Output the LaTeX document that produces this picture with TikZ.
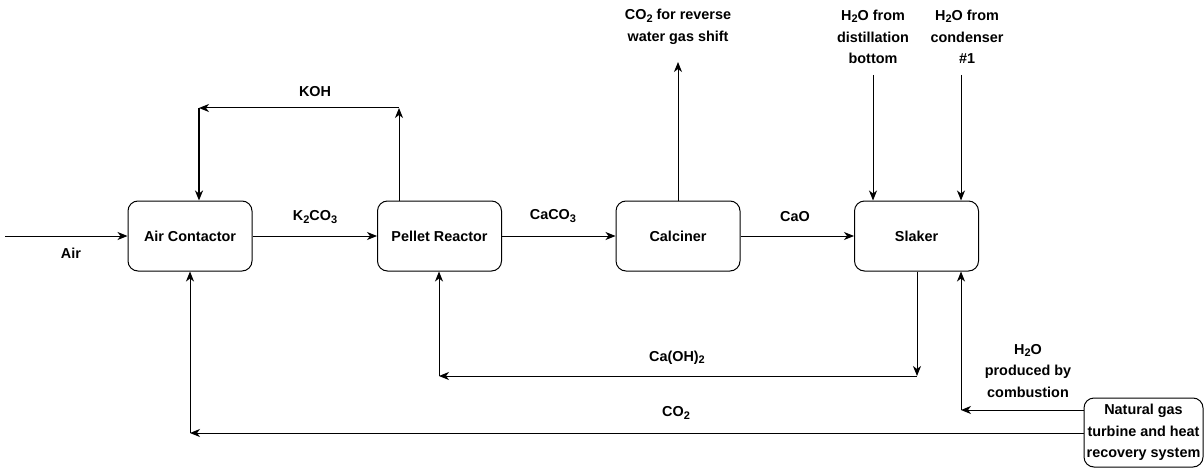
\documentclass[tikz,border=0pt]{standalone}
\usepackage{fontspec}
\setmainfont{Liberation Sans}
\usetikzlibrary{arrows.meta}
\newcommand{\chemsub}[1]{\raisebox{-0.28ex}{\fontsize{11}{11}\selectfont #1}}
\begin{document}
\begin{tikzpicture}[x=1pt,y=-1pt,
 box/.style={draw, rounded corners=10pt, minimum width=124pt, minimum height=70pt, line width=1pt, font=\fontsize{14.4}{21.5}\selectfont\bfseries, align=center, inner sep=0pt},
 lbl/.style={font=\fontsize{14.4}{21.5}\selectfont\bfseries, align=center, inner sep=0pt},
 flow/.style={draw, line width=1pt, -{Stealth[length=10pt,width=8pt,inset=3pt]}},
]
\useasboundingbox (0,0) rectangle (1204,468);
% process units
\node[box] (ac) at (190,236) {Air Contactor};
\node[box] (pr) at (439.5,236) {Pellet Reactor};
\node[box] (ca) at (678,236) {Calciner};
\node[box] (sl) at (916.5,236) {Slaker};
\node[box, minimum width=119pt, minimum height=69pt] (ng) at (1143.5,432.5) {Natural gas\\turbine and heat\\recovery system};
% free ends and corners
\coordinate (airin) at (5,236);
\coordinate (k1) at (399,108);
\coordinate (k2) at (199,108);
\coordinate (co2top) at (678,62);
\coordinate (h1) at (873,75);
\coordinate (h2) at (961,75);
\coordinate (c1) at (917,376);
\coordinate (c2) at (439,376);
\coordinate (w1) at (961,410);
\coordinate (g1) at (190,433);
% main line
\draw[flow] (airin) -- (ac.west);
\draw[flow] (ac.east) -- (pr.west);
\draw[flow] (pr.east) -- (ca.west);
\draw[flow] (ca.east) -- (sl.west);
% KOH recycle
\draw[flow] (k1 |- pr.north) -- (k1);
\draw[flow] (k1) -- (k2);
\draw[flow, line width=1.8pt] (k2) -- (k2 |- ac.north);
% CO2 product
\draw[flow] (ca.north) -- (co2top);
% water feeds
\draw[flow] (h1) -- (h1 |- sl.north);
\draw[flow] (h2) -- (h2 |- sl.north);
% Ca(OH)2 recycle
\draw[flow] (c1 |- sl.south) -- (c1);
\draw[flow] (c1) -- (c2);
\draw[flow] (c2) -- (c2 |- pr.south);
% combustion water
\draw[flow] (ng.west |- w1) -- (w1);
\draw[flow] (w1) -- (w1 |- sl.south);
% CO2 from turbine
\draw[flow] (ng.west |- g1) -- (g1);
\draw[flow] (g1) -- (ac.south);
% labels
\node[lbl] (lair) at (71,253) {Air};
\node[lbl] (lkoh) at (315,92) {KOH};
\node[lbl] (lk2co3) at (315,217) {K\chemsub{2}CO\chemsub{3}};
\node[lbl] (lcaco3) at (553,216) {CaCO\chemsub{3}};
\node[lbl] (lcao) at (795,217) {CaO};
\node[lbl] (lco2rw) at (678,27) {CO\chemsub{2} for reverse\\water gas shift};
\node[lbl] (lh2od) at (873,37) {H\chemsub{2}O from\\distillation\\bottom};
\node[lbl] (lh2oc) at (967,37) {H\chemsub{2}O from\\condenser\\\#1};
\node[lbl] (lcaoh) at (677,358) {Ca(OH)\chemsub{2}};
\node[lbl] (lh2ocomb) at (1028,371) {H\chemsub{2}O\\produced by\\combustion};
\node[lbl] (lco2) at (676,413) {CO\chemsub{2}};
\end{tikzpicture}
\end{document}
